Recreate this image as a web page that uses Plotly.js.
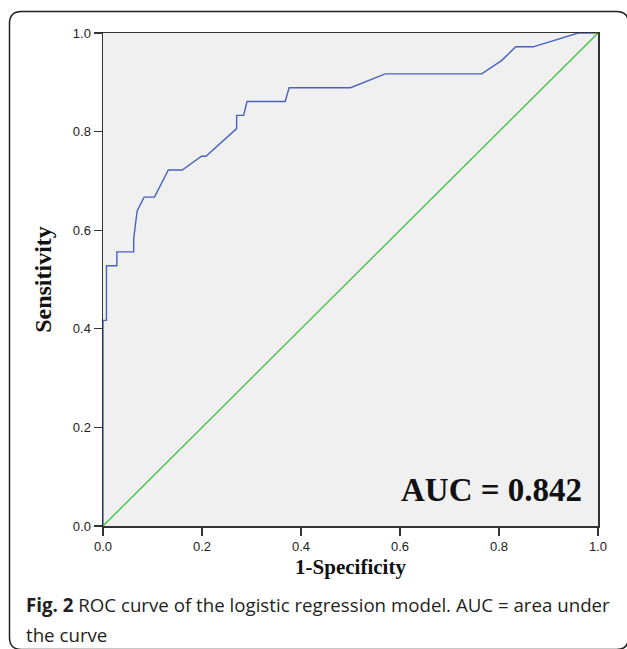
<!DOCTYPE html>
<html><head><meta charset="utf-8">
<script src="https://cdn.plot.ly/plotly-3.0.1.min.js"></script>
<style>html,body{margin:0;padding:0;background:#fff;overflow:hidden;}</style>
</head><body><div id="chart" style="width:627px;height:649px;"></div>
<script>
// ROC curve (1-Specificity, Sensitivity)
const fpr = [0, 0, 0.007, 0.007, 0.028, 0.028, 0.062, 0.062, 0.069, 0.083, 0.104, 0.132, 0.160, 0.199, 0.208, 0.270, 0.270, 0.284, 0.291, 0.368, 0.376, 0.500, 0.570, 0.765, 0.805, 0.834, 0.869, 0.960, 1.0];
const tpr = [0, 0.417, 0.417, 0.528, 0.528, 0.556, 0.556, 0.583, 0.639, 0.667, 0.667, 0.722, 0.722, 0.750, 0.750, 0.806, 0.833, 0.833, 0.861, 0.861, 0.889, 0.889, 0.917, 0.917, 0.944, 0.972, 0.972, 1.0, 1.0];
// reference diagonal
const refX = [0, 1];
const refY = [0, 1];
const tickVals = [0, 0.2, 0.4, 0.6, 0.8, 1.0];
const tickText = ['0.0', '0.2', '0.4', '0.6', '0.8', '1.0'];
const xTitle = '1-Specificity';
const yTitle = 'Sensitivity';
const aucLabel = 'AUC = 0.842';
const captionBold = 'Fig. 2';
const captionLine1 = ' ROC curve of the logistic regression model. AUC = area under';
const captionLine2 = 'the curve';

const W = 627, H = 649, ML = 103, MR = 29, MT = 33, MB = 123;
const PW = W - ML - MR, PH = H - MT - MB;
const px = v => (v - ML) / PW;
const py = v => (H - MB - v) / PH;

// rounded frame around the figure (pixel geometry -> paper coords)
function roundedFrame(l, t, r, b, rad) {
  const p = (x, y) => px(x).toFixed(5) + ',' + py(y).toFixed(5);
  return 'M' + p(l + rad, t) + ' L' + p(r - rad, t) + ' Q' + p(r, t) + ' ' + p(r, t + rad) +
    ' L' + p(r, b - rad) + ' Q' + p(r, b) + ' ' + p(r - rad, b) +
    ' L' + p(l + rad, b) + ' Q' + p(l, b) + ' ' + p(l, b - rad) +
    ' L' + p(l, t + rad) + ' Q' + p(l, t) + ' ' + p(l + rad, t) + ' Z';
}

const traces = [
  {x: refX, y: refY, mode: 'lines', line: {color: '#3cbf3c', width: 1.3}, hoverinfo: 'skip'},
  {x: fpr, y: tpr, mode: 'lines', line: {color: '#4862c0', width: 1.4}, hoverinfo: 'skip'}
];

const axisCommon = {
  range: [0, 1], showgrid: false, zeroline: false, showline: true, mirror: true,
  linecolor: '#333', linewidth: 1.5, ticks: 'outside', ticklen: 8, tickwidth: 1.4, tickcolor: '#333',
  tickvals: tickVals, ticktext: tickText,
  tickfont: {family: 'Liberation Sans, Arial, sans-serif', size: 13, color: '#222'}
};

const layout = {
  width: W, height: H, margin: {l: ML, r: MR, t: MT, b: MB},
  paper_bgcolor: '#ffffff', plot_bgcolor: '#f0f0f0', showlegend: false,
  xaxis: Object.assign({}, axisCommon, {
    title: {text: xTitle, standoff: 6, font: {family: 'Liberation Serif, Times New Roman, serif', size: 21, weight: 'bold', color: '#111'}}
  }),
  yaxis: Object.assign({}, axisCommon, {
    title: {text: yTitle, standoff: 14, font: {family: 'Liberation Serif, Times New Roman, serif', size: 24, weight: 'bold', color: '#111'}}
  }),
  annotations: [
    {text: aucLabel, xref: 'x', yref: 'y', x: 0.785, y: 0.073, showarrow: false,
     font: {family: 'Liberation Serif, Times New Roman, serif', size: 33, weight: 'bold', color: '#111'}},
    {text: '<b>' + captionBold + '</b>' + captionLine1, xref: 'paper', yref: 'paper', x: px(24), y: py(604),
     xanchor: 'left', yanchor: 'middle', showarrow: false,
     font: {family: 'Open Sans, Noto Sans, sans-serif', size: 18.7, color: '#231f20'}},
    {text: captionLine2, xref: 'paper', yref: 'paper', x: px(24), y: py(634),
     xanchor: 'left', yanchor: 'middle', showarrow: false,
     font: {family: 'Open Sans, Noto Sans, sans-serif', size: 18.7, color: '#231f20'}}
  ],
  shapes: [
    {type: 'path', xref: 'paper', yref: 'paper', path: roundedFrame(9.5, 11.5, 628.5, 649.5, 12),
     line: {color: '#222', width: 1.5}, fillcolor: 'rgba(0,0,0,0)', layer: 'below'}
  ]
};

Plotly.newPlot('chart', traces, layout, {staticPlot: true, displayModeBar: false});
</script>
</body></html>
